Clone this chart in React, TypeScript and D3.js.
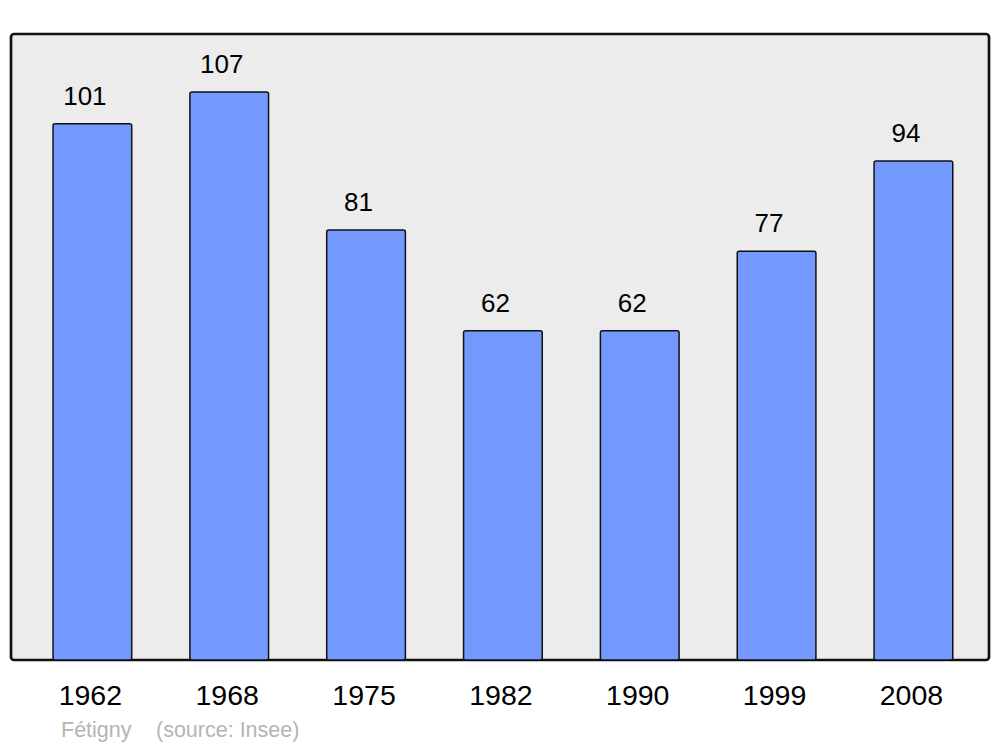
import React from "react";
import * as d3 from "d3";

const years = ["1962", "1968", "1975", "1982", "1990", "1999", "2008"];
const population = [101, 107, 81, 62, 62, 77, 94];
const footerName = "Fétigny";
const footerSource = "(source: Insee)";

export default function App() {
  const W = 1000, H = 747;
  const frame = { x0: 11, x1: 989, y0: 34, y1: 660 };
  const x = d3.scaleBand<string>().domain(years).range([frame.x0, frame.x1]).paddingInner(0.425).paddingOuter(0.286).align(0.537);
  const y = d3.scaleLinear().domain([0, d3.max(population)! * 1.102]).range([frame.y1, frame.y0]);
  const font = "'Liberation Sans', Arial, sans-serif";
  return (
    <svg width={W} height={H} style={{ position: "absolute", left: 0, top: 0 }} fontFamily={font}>
      <rect x={0} y={0} width={W} height={H} fill="#ffffff" />
      <rect x={frame.x0} y={frame.y0} width={frame.x1 - frame.x0} height={frame.y1 - frame.y0} rx={3} ry={3} fill="#ececec" stroke="#111" strokeWidth={2.7} />
      {years.map((yr, i) => {
        const bx = x(yr)!;
        const bw = x.bandwidth();
        const top = y(population[i]);
        return (
          <g key={yr}>
            <rect x={bx} y={top} width={bw} height={y(0) - top} rx={2} ry={2} fill="#7399ff" stroke="#111" strokeWidth={1.5} />
            <text x={bx + bw / 2 - 7.5} y={top - 19} fontSize={26} textAnchor="middle" fill="#000">{population[i]}</text>
            <text x={bx + bw / 2 - 2} y={705} fontSize={28.5} textAnchor="middle" fill="#000">{yr}</text>
          </g>
        );
      })}
      <text x={61} y={737} fontSize={21.5} fill="#b5b5b5">{footerName}</text>
      <text x={156} y={737} fontSize={21.5} fill="#b5b5b5">{footerSource}</text>
    </svg>
  );
}
